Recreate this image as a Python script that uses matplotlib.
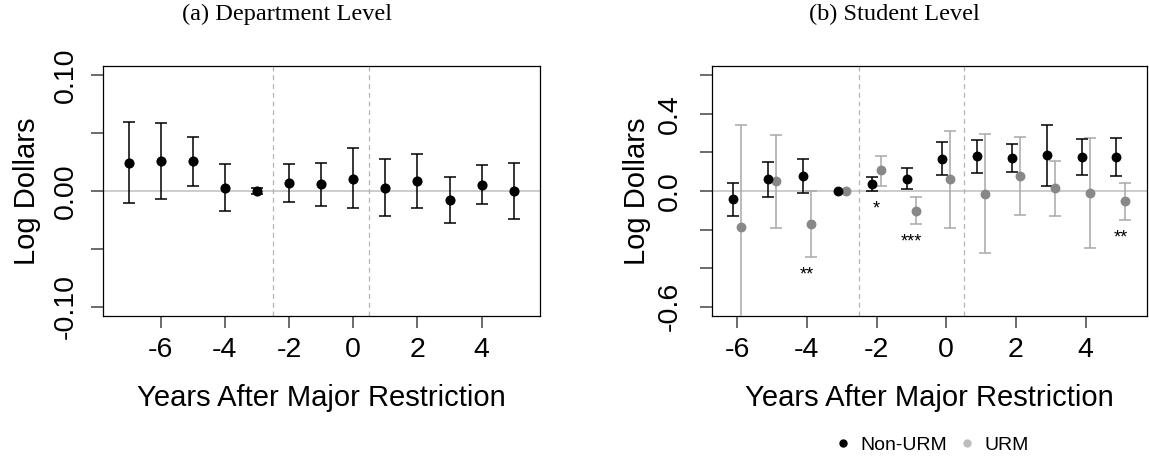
import matplotlib
matplotlib.use('Agg')
import matplotlib.pyplot as plt
from matplotlib.lines import Line2D
import numpy as np

plt.rcParams['font.family'] = ['Liberation Sans', 'DejaVu Sans']
plt.rcParams['axes.unicode_minus'] = False

# (a) department level
anos_dept = [-7, -6, -5, -4, -3, -2, -1, 0, 1, 2, 3, 4, 5]
dept_est = [0.0245, 0.0256, 0.0256, 0.0029, 0.0, 0.0072, 0.0058, 0.0107, 0.0029, 0.0089, -0.0078, 0.0055, 0.0]
dept_lo = [-0.0104, -0.0069, 0.0043, -0.0173, -0.0023, -0.0092, -0.0127, -0.015, -0.0219, -0.015, -0.0274, -0.0115, -0.0239]
dept_hi = [0.0597, 0.0585, 0.047, 0.023, 0.0023, 0.0236, 0.0245, 0.0369, 0.0277, 0.0323, 0.0121, 0.0222, 0.0242]

# (b) student level
anos_aluno = [-6, -5, -4, -3, -2, -1, 0, 1, 2, 3, 4, 5]
nonurm_est = [-0.041, 0.060, 0.076, 0.0, 0.036, 0.064, 0.166, 0.180, 0.173, 0.185, 0.178, 0.178]
nonurm_lo = [-0.128, -0.031, -0.009, 0.0, -0.002, 0.010, 0.081, 0.093, 0.100, 0.028, 0.085, 0.076]
nonurm_hi = [0.043, 0.148, 0.164, 0.0, 0.074, 0.117, 0.252, 0.262, 0.242, 0.340, 0.269, 0.275]
urm_est = [-0.185, 0.050, -0.173, 0.0, 0.107, -0.102, 0.062, -0.014, 0.079, 0.014, -0.010, -0.054]
urm_lo = [-0.714, -0.192, -0.344, 0.0, 0.028, -0.173, -0.190, -0.320, -0.124, -0.128, -0.294, -0.150]
urm_hi = [0.344, 0.292, -0.002, 0.0, 0.183, -0.031, 0.309, 0.297, 0.281, 0.154, 0.275, 0.041]

# significance stars
estrelas_x = [-4, -2, -1, 5]
estrelas_y = [-0.414, -0.0725, -0.245, -0.223]
estrelas_txt = ['**', '*', '***', '**']

xticks_vals = [-6, -4, -2, 0, 2, 4]
dept_yticks = [-0.10, -0.05, 0.0, 0.05, 0.10]
dept_ylabels = ['-0.10', '', '0.00', '', '0.10']
aluno_yticks = [-0.6, -0.4, -0.2, 0.0, 0.2, 0.4, 0.6]
aluno_ylabels = ['-0.6', '', '', '0.0', '', '0.4', '']

W, H = 1149, 459
fig = plt.figure(figsize=(W / 100, H / 100), dpi=100)
ax1 = fig.add_axes([103 / W, 143 / H, 437 / W, 250 / H])
ax2 = fig.add_axes([711.7 / W, 143 / H, 435 / W, 250 / H])


def barras(ax, x, est, lo, hi, cor_ponto, cor_barra, ms):
    x = np.asarray(x, float)
    est = np.asarray(est)
    lo = np.asarray(lo)
    hi = np.asarray(hi)
    mask = hi > lo
    ax.errorbar(x[mask], est[mask], yerr=[est[mask] - lo[mask], hi[mask] - est[mask]],
                fmt='none', ecolor=cor_barra, elinewidth=1.1, capsize=4.4, capthick=1.1, zorder=3)
    ax.plot(x, est, 'o', color=cor_ponto, markersize=ms, markeredgewidth=0, zorder=4)


def estilo(ax, yticks, ylabels, xlim, ylim, ypad):
    ax.axhline(0, color='#c8c8c8', lw=1.3, zorder=1)
    for v in (-2.5, 0.5):
        ax.axvline(v, color='#b4b4b4', lw=0.9, ls=(0, (4, 3)), zorder=1)
    ax.set_xlim(xlim)
    ax.set_ylim(ylim)
    ax.set_xticks(xticks_vals)
    ax.set_xticklabels([str(v) for v in xticks_vals])
    ax.set_yticks(yticks)
    ax.set_yticklabels(ylabels)
    for s in ax.spines.values():
        s.set_linewidth(0.9)
        s.set_color('black')
    ax.tick_params(axis='both', direction='out', length=8.6, width=1.1, color='#444444', labelsize=20.5)
    ax.tick_params(axis='x', pad=6.5)
    ax.tick_params(axis='y', pad=ypad)
    plt.setp(ax.get_yticklabels(), rotation=90, va='center', ha='right')
    ax.set_xlabel('Years After Major Restriction', fontsize=21, va='center')
    ax.xaxis.set_label_coords(0.5, -0.33)
    ax.set_ylabel('Log Dollars', fontsize=21, va='center')
    ax.yaxis.set_label_coords(-0.175, 0.5)


barras(ax1, anos_dept, dept_est, dept_lo, dept_hi, 'black', 'black', 7.3)
estilo(ax1, dept_yticks, dept_ylabels, (-7.8, 5.82), (-0.108, 0.108), 9.0)

off = 0.12
barras(ax2, np.array(anos_aluno) + off, urm_est, urm_lo, urm_hi, '#888888', '#a8a8a8', 7.1)
barras(ax2, np.array(anos_aluno) - off, nonurm_est, nonurm_lo, nonurm_hi, 'black', 'black', 7.1)
estilo(ax2, aluno_yticks, aluno_ylabels, (-6.73, 5.75), (-0.648, 0.648), 12.5)
ax2.yaxis.set_label_coords(-0.172, 0.5)

for x, y, t in zip(estrelas_x, estrelas_y, estrelas_txt):
    ax2.annotate(t, (x, y), xytext=(0, -3), textcoords='offset points',
                 ha='center', va='center', fontsize=13)

fig.text(287.5 / W, 1 - 14 / H, '(a) Department Level', ha='center', va='center',
         family='Liberation Serif', fontsize=17.5)
fig.text(894 / W, 1 - 14 / H, '(b) Student Level', ha='center', va='center',
         family='Liberation Serif', fontsize=17.5)

handles = [Line2D([], [], ls='none', marker='o', color='black', markersize=6, markeredgewidth=0),
           Line2D([], [], ls='none', marker='o', color='#bdbdbd', markersize=6, markeredgewidth=0)]
fig.legend(handles, ['Non-URM', 'URM'], loc='center', ncol=2, frameon=False,
           bbox_to_anchor=(932 / W, 1 - 445 / H), fontsize=14, handlelength=0.8,
           handletextpad=0.5, columnspacing=0.6)

fig.savefig('out.png', dpi=100)
